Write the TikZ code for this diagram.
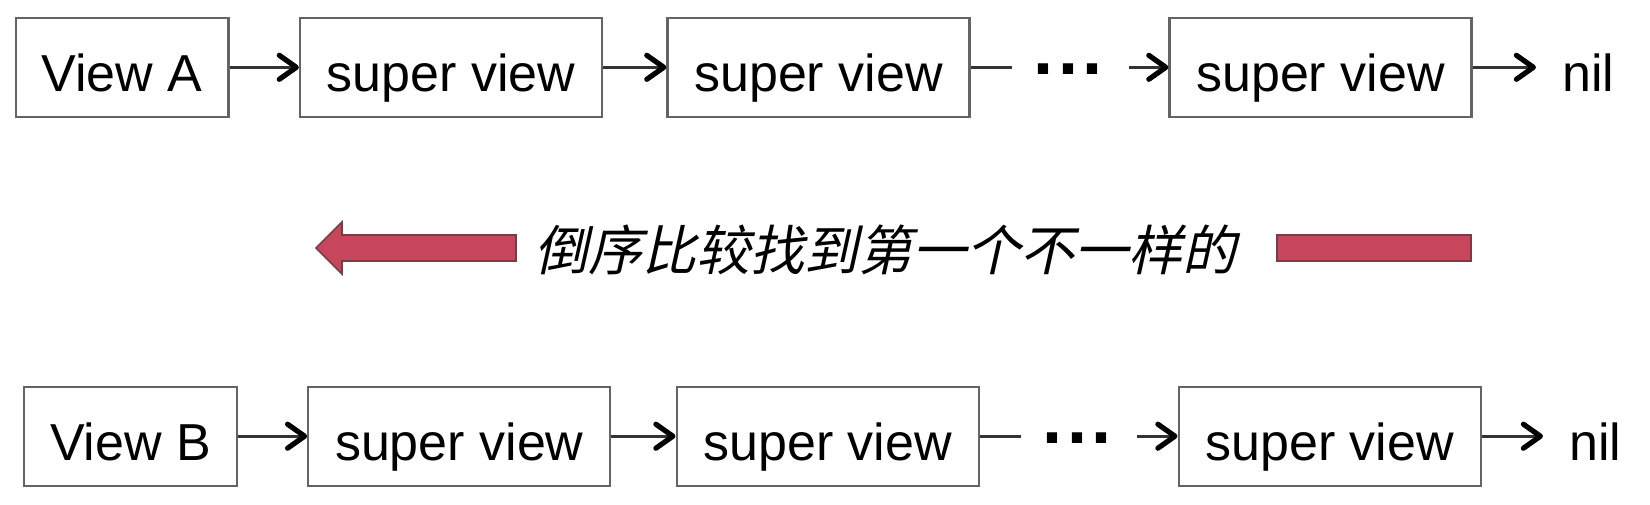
\documentclass[tikz,border=0pt]{standalone}
\usepackage{fontspec}
\setmainfont{Liberation Sans}
\newfontfamily\cjk[FakeSlant=0.22]{Noto Sans CJK SC}
\usetikzlibrary{arrows.meta}
\definecolor{arrowred}{RGB}{200,70,92}
\definecolor{arrowredline}{RGB}{120,60,70}
\definecolor{boxline}{RGB}{100,100,100}
\tikzset{
  chainbox/.style={draw=boxline, line width=1.1pt, fill=white, inner sep=0pt,
    minimum height=49.5pt, text height=23.8pt, text depth=0pt,
    font=\fontsize{26}{30}\selectfont},
  viewbox/.style={chainbox, minimum width=106.3pt},
  superbox/.style={chainbox, minimum width=151pt},
  niltext/.style={inner sep=0pt, anchor=west, text height=23.8pt, text depth=0pt,
    font=\fontsize{26}{30}\selectfont},
  dotstext/.style={inner sep=0pt, font=\fontsize{36}{40}\selectfont\bfseries},
  link/.style={line width=1.3pt, black!80,
    -{Straight Barb[length=8.5pt,width=12pt,line width=2.6pt,round,color=black]}},
  plainlink/.style={line width=1.3pt, black!80},
}
\newcommand{\mydots}{.\hspace{2.2pt}.\hspace{2.2pt}.}
\begin{document}
\begin{tikzpicture}[x=0.5pt,y=-0.5pt]
\useasboundingbox (0,0) rectangle (1650,504);
% top row
\node[viewbox]  (viewA) at (122.1,67.3) {View A};
\node[superbox] (svA1)  at (451,67.3) {super view};
\node[superbox] (svA2)  at (818.5,67.3) {super view};
\node[dotstext] (dotsA) at (1068,69) {\mydots};
\node[superbox] (svA3)  at (1320.5,67.3) {super view};
\node[niltext]  (nilA)  at (1562,67.3) {nil};
\coordinate (lA) at (1012,67.3);
\coordinate (rA) at (1129,67.3);
\draw[link] (viewA.east) -- (svA1.west);
\draw[link] (svA1.east) -- (svA2.west);
\draw[plainlink] (svA2.east) -- (lA);
\draw[link] (rA) -- (svA3.west);
\draw[link, shorten >=13pt] (svA3.east) -- (nilA.west);
% middle
\fill[arrowred, draw=arrowredline, line width=0.8pt]
  (516,235) -- (342,235) -- (342,222) -- (316,248) -- (342,274) -- (342,261) -- (516,261) -- cycle;
\fill[arrowred, draw=arrowredline, line width=0.8pt] (1277,235) rectangle (1471,261);
\node[inner sep=0pt, font=\fontsize{27}{30}\selectfont\cjk] (caption) at (885,250) {倒序比较找到第一个不一样的};
% bottom row
\node[viewbox]  (viewB) at (130.5,436.2) {View B};
\node[superbox] (svB1)  at (459.3,436.2) {super view};
\node[superbox] (svB2)  at (827.6,436.2) {super view};
\node[dotstext] (dotsB) at (1077,438) {\mydots};
\node[superbox] (svB3)  at (1329.6,436.2) {super view};
\node[niltext]  (nilB)  at (1569,436.2) {nil};
\coordinate (lB) at (1021,436.2);
\coordinate (rB) at (1137,436.2);
\draw[link] (viewB.east) -- (svB1.west);
\draw[link] (svB1.east) -- (svB2.west);
\draw[plainlink] (svB2.east) -- (lB);
\draw[link] (rB) -- (svB3.west);
\draw[link, shorten >=13pt] (svB3.east) -- (nilB.west);
\end{tikzpicture}
\end{document}
